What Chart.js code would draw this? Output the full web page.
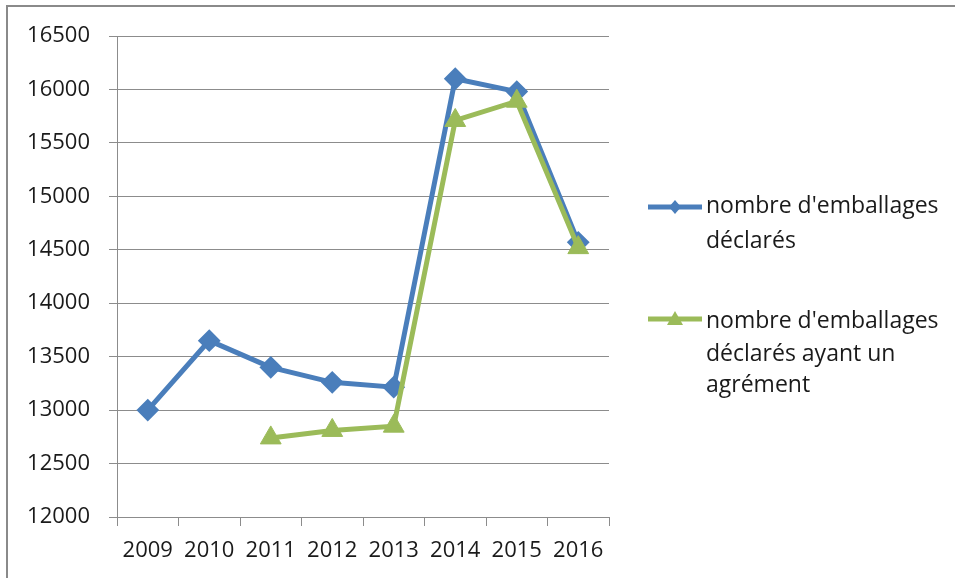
<!DOCTYPE html>
<html>
<head>
<meta charset="utf-8">
<script src="https://cdn.jsdelivr.net/npm/chart.js@4.4.0/dist/chart.umd.min.js"></script>
<style>
  html, body { margin: 0; padding: 0; background: #fff; }
  #wrap { position: relative; width: 955px; height: 578px; overflow: hidden; }
  #frame { position: absolute; left: 6px; top: 5px; right: 0; bottom: 0;
           border-top: 2px solid #8a8a8a; border-left: 2px solid #8a8a8a; }
  canvas { position: absolute; left: 0; top: 0; }
</style>
</head>
<body>
<div id="wrap">
  <div id="frame"></div>
  <canvas id="chart" width="955" height="578"></canvas>
</div>
<script>
// données
const years = ['2009', '2010', '2011', '2012', '2013', '2014', '2015', '2016'];
const declares = [13000, 13650, 13400, 13260, 13215, 16100, 15980, 14570];
const agrees = [null, null, 12740, 12810, 12850, 15710, 15890, 14520];
const legendLines = [
    ['nombre d\'emballages', 'déclarés'],
    ['nombre d\'emballages', 'déclarés ayant un', 'agrément']
];

const BLUE = '#4a7ebb';
const GREEN = '#9bbb59';
const GRID = '#8c8c8c';
const TEXT = '#1a1a1a';
const FONT = '"Open Sans", sans-serif';

// légende dessinée à la main (Chart.js ne coupe pas les libellés sur plusieurs lignes)
const sideLegend = {
    id: 'sideLegend',
    afterDraw(chart) {
        const ctx = chart.ctx;
        const rows = [
            { y: 207, color: BLUE, shape: 'diamond', lines: legendLines[0], textY: [206, 241] },
            { y: 319, color: GREEN, shape: 'triangle', lines: legendLines[1], textY: [321, 354, 385] }
        ];
        ctx.save();
        rows.forEach(r => {
            ctx.strokeStyle = r.color;
            ctx.lineWidth = 5;
            ctx.beginPath();
            ctx.moveTo(648, r.y);
            ctx.lineTo(702, r.y);
            ctx.stroke();
            ctx.fillStyle = r.color;
            ctx.beginPath();
            if (r.shape === 'diamond') {
                ctx.moveTo(675, r.y - 7);
                ctx.lineTo(681, r.y);
                ctx.lineTo(675, r.y + 7);
                ctx.lineTo(669, r.y);
            } else {
                ctx.moveTo(675, r.y - 8);
                ctx.lineTo(683, r.y + 6);
                ctx.lineTo(667, r.y + 6);
            }
            ctx.closePath();
            ctx.fill();
            ctx.fillStyle = TEXT;
            ctx.font = '23px ' + FONT;
            ctx.textBaseline = 'middle';
            ctx.textAlign = 'left';
            r.lines.forEach((t, i) => ctx.fillText(t, 706, r.textY[i]));
        });
        ctx.restore();
    }
};

new Chart(document.getElementById('chart'), {
    type: 'line',
    data: {
        labels: years,
        datasets: [
            {
                label: legendLines[0].join(' '),
                data: declares,
                borderColor: BLUE,
                backgroundColor: BLUE,
                borderWidth: 5,
                pointStyle: 'rectRot',
                pointRadius: 10,
                pointBorderWidth: 2,
                order: 1
            },
            {
                label: legendLines[1].join(' '),
                data: agrees,
                borderColor: GREEN,
                backgroundColor: GREEN,
                borderWidth: 5,
                pointStyle: 'triangle',
                pointRadius: 12,
                pointBorderWidth: 1,
                order: 0
            }
        ]
    },
    options: {
        responsive: false,
        animation: false,
        layout: { padding: { left: 0, top: 36, right: 346, bottom: 0 } },
        plugins: { legend: { display: false }, tooltip: { enabled: false } },
        scales: {
            x: {
                offset: true,
                afterFit: s => { s.height = 61; },
                grid: { offset: true, drawOnChartArea: false, drawTicks: true, tickLength: 9, color: GRID },
                border: { display: true, color: GRID },
                ticks: { color: TEXT, font: { family: FONT, size: 22 }, padding: 12, maxRotation: 0 }
            },
            y: {
                min: 12000,
                max: 16500,
                afterFit: s => { s.width = 117; },
                ticks: { stepSize: 500, color: TEXT, font: { family: FONT, size: 22 }, padding: 19,
                         callback: v => String(v) },
                grid: { color: GRID, tickLength: 8 },
                border: { display: true, color: GRID }
            }
        }
    },
    plugins: [sideLegend]
});
</script>
</body>
</html>
